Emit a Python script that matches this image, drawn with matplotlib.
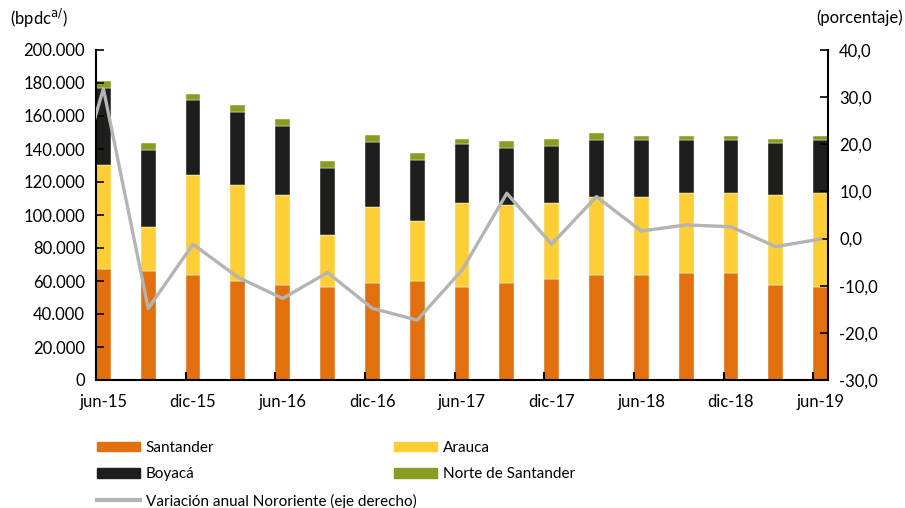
import matplotlib
matplotlib.use("Agg")
import matplotlib.pyplot as plt
import numpy as np
from matplotlib.patches import Patch
from matplotlib.lines import Line2D
from matplotlib.ticker import FuncFormatter

plt.rcParams['font.family'] = ['Lato', 'DejaVu Sans']
plt.rcParams['font.size'] = 12

# Data
periodos = ['jun-15', 'sep-15', 'dic-15', 'mar-16', 'jun-16', 'sep-16', 'dic-16', 'mar-17',
            'jun-17', 'sep-17', 'dic-17', 'mar-18', 'jun-18', 'sep-18', 'dic-18', 'mar-19', 'jun-19']
santander = [67.3, 66.1, 63.6, 60.2, 57.6, 56.6, 59.0, 60.2, 56.6, 59.0, 61.2, 63.6, 63.6, 64.8, 64.8, 57.6, 56.6]
arauca = [63.0, 26.4, 60.6, 57.8, 54.5, 31.3, 45.8, 36.2, 50.5, 46.9, 45.9, 47.3, 47.3, 48.3, 48.3, 54.3, 56.5]
boyaca = [46.9, 46.9, 45.5, 44.4, 41.8, 40.8, 39.6, 37.1, 36.1, 34.9, 34.9, 34.7, 34.7, 32.5, 32.5, 31.5, 32.5]
norte = [4.0, 4.0, 3.8, 4.1, 4.3, 4.0, 4.1, 4.1, 2.7, 3.8, 3.9, 4.1, 2.5, 2.5, 2.5, 2.5, 2.5]
# annual variation (%), first value is mar-15 (clipped off the left edge)
variacion = [-1.0, 31.8, -14.8, -1.2, -8.2, -12.7, -7.2, -14.8, -17.3, -6.7, 9.6, -1.2,
             8.9, 1.6, 2.9, 2.5, -1.7, -0.1]

c_san = '#E3700E'
c_ara = '#FDCE36'
c_boy = '#1E1E1C'
c_nor = '#879E22'
c_lin = '#B4B4B4'

x = np.arange(len(periodos))
w = 0.33
s = np.array(santander) * 1000
a = np.array(arauca) * 1000
b = np.array(boyaca) * 1000
n = np.array(norte) * 1000

fig = plt.figure(figsize=(9.05, 5.08), dpi=100)
ax = fig.add_axes([96/905, 1 - 380/508, (828-96)/905, 330/508])

ax.bar(x, s, w, color=c_san, edgecolor='white', linewidth=0.3)
ax.bar(x, a, w, bottom=s, color=c_ara, edgecolor='white', linewidth=0.3)
ax.bar(x, b, w, bottom=s + a, color=c_boy, edgecolor='white', linewidth=0.3)
ax.bar(x, n, w, bottom=s + a + b, color=c_nor, edgecolor='white', linewidth=0.3)

ax.set_xlim(-w/2, len(periodos) - 1 + w/2)
ax.set_ylim(0, 200000)
ax.set_yticks(np.arange(0, 200001, 20000))
ax.yaxis.set_major_formatter(FuncFormatter(lambda v, p: f"{int(v):,}".replace(',', '.')))

ax.set_xticks(x[::2])
ax.set_xticklabels(periodos[::2])
ax.set_xticks(x[::2] - w/2, minor=True)
ax.tick_params(axis='x', which='major', length=0, pad=10)
ax.tick_params(axis='x', which='minor', length=6, width=1.5, direction='in')
ax.tick_params(axis='y', length=6, width=1.2, direction='in', pad=8)

for sp in ['top', 'right']:
    ax.spines[sp].set_visible(False)
ax.spines['left'].set_linewidth(1.5)
ax.spines['bottom'].set_linewidth(1.5)

ax2 = ax.twinx()
xl = np.arange(-1, len(periodos))
ax2.plot(xl, variacion, color=c_lin, linewidth=2.4, clip_on=True)
ax2.set_xlim(ax.get_xlim())
ax2.set_ylim(-30, 40)
ax2.set_yticks(np.arange(-30, 41, 10))
ax2.yaxis.set_major_formatter(FuncFormatter(lambda v, p: f"{v:.1f}".replace('.', ',')))
ax2.tick_params(axis='y', length=6, width=1.2, direction='in', pad=8)
for sp in ['top', 'left', 'bottom']:
    ax2.spines[sp].set_visible(False)
ax2.spines['right'].set_linewidth(1.5)

fig.text(10/905, 1 - 18/508, r'(bpdc$^{\mathrm{a/}}$)', ha='left', va='center', fontsize=12)
fig.text(903/905, 1 - 18/508, '(porcentaje)', ha='right', va='center', fontsize=12)

h1 = [Patch(color=c_san, label='Santander'),
      Patch(color=c_boy, label='Boyacá'),
      Line2D([], [], color=c_lin, linewidth=3, label='Variación anual Nororiente (eje derecho)')]
h2 = [Patch(color=c_ara, label='Arauca'),
      Patch(color=c_nor, label='Norte de Santander')]
kw = dict(frameon=False, handlelength=2.8, handleheight=0.6, handletextpad=0.4,
          labelspacing=0.8, borderaxespad=0, borderpad=0,
          prop={'family': ['Lato', 'DejaVu Sans'], 'size': 11})
fig.legend(handles=h1, loc='upper left', bbox_to_anchor=(97/905, 1 - 441/508), **kw)
fig.legend(handles=h2, loc='upper left', bbox_to_anchor=(394/905, 1 - 441/508), **kw)

plt.savefig('out.png', dpi=100)
